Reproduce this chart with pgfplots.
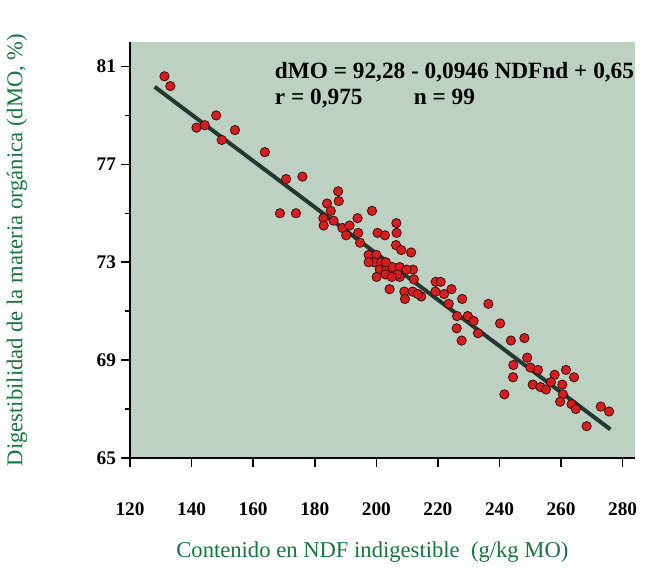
\documentclass[border=0pt]{standalone}
\usepackage{pgfplots}
\pgfplotsset{compat=1.18}
\usepackage{fontspec}
\setmainfont{Liberation Serif}

\definecolor{panel}{RGB}{188,209,193}
\definecolor{dotred}{RGB}{214,30,30}
\definecolor{fitline}{RGB}{34,58,50}
\definecolor{labgreen}{RGB}{22,118,62}

\begin{document}
\begin{tikzpicture}
\begin{axis}[
    scale only axis,
    width=379.5pt, height=312.6pt,
    xmin=120, xmax=284,
    ymin=65, ymax=82,
    axis x line*=bottom,
    axis y line*=left,
    axis line style={line width=1.4pt, black},
    axis background/.style={fill=panel},
    xtick={120,140,...,280},
    ytick={65,69,73,77,81},
    minor ytick={67,71,75,79},
    tick align=outside,
    major tick length=7pt,
    minor tick length=4pt,
    tick style={line width=1.2pt, black},
    /pgf/number format/assume math mode=true,
    ticklabel style={font=\fontsize{14.5}{16}\selectfont\bfseries},
    xticklabel style={anchor=center, yshift=-31.6pt},
    xlabel={Contenido en NDF indigestible\ \ (g/kg MO)},
    ylabel={Digestibilidad de la materia orgánica (dMO, \%)},
    label style={font=\fontsize{17}{19}\selectfont, text=labgreen},
    xlabel style={at={(rel axis cs:0.48,0)}, anchor=center, yshift=-71pt},
    ylabel style={at={(rel axis cs:-0.224,0.5)}, anchor=center},
    clip=false,
]
% regression line dMO = 92.28 - 0.0946 NDFnd
\addplot[fitline, line width=3pt] coordinates {(128,80.17) (276,66.17)};

\addplot[only marks, mark=*, mark size=3.5pt,
    mark options={fill=dotred, draw=black!70!dotred, line width=0.6pt}]
coordinates {
(131.2,80.6) (133.1,80.2) (148.0,79.0) (141.6,78.5) (144.3,78.6)
(154.1,78.4) (149.8,78.0) (163.8,77.5) (170.7,76.4) (176.0,76.5)
(168.7,75.0) (173.9,75.0) (184.0,75.4) (187.6,75.9) (187.8,75.5)
(182.8,74.8) (182.9,74.5) (186.1,74.7) (189.0,74.4) (190.2,74.1)
(193.9,74.8) (198.6,75.1) (194.1,74.2) (194.7,73.8) (200.4,74.2)
(202.8,74.1) (206.5,74.6) (206.6,74.2) (206.4,73.7) (208.1,73.5)
(211.3,73.4) (197.5,73.3) (200.0,73.3) (199.3,73.0) (201.6,73.0)
(201.1,72.7) (203.2,72.7) (200.1,72.4) (203.0,72.5) (205.3,72.8)
(207.6,72.8) (207.6,72.4) (211.9,72.7) (212.2,72.3) (204.3,71.9)
(209.1,71.8) (209.3,71.5) (211.8,71.8) (214.6,71.6) (219.3,72.2)
(220.9,72.2) (219.2,71.8) (222.0,71.7) (224.4,71.9) (223.5,71.3)
(227.9,71.5) (236.4,71.3) (226.2,70.8) (226.1,70.3) (229.7,70.8)
(231.6,70.6) (233.0,70.1) (240.2,70.5) (227.7,69.8) (243.7,69.8)
(248.1,69.9) (249.0,69.1) (244.5,68.8) (244.4,68.3) (241.6,67.6)
(250.0,68.7) (252.5,68.6) (250.8,68.0) (253.3,67.9) (255.1,67.8)
(257.9,68.4) (261.6,68.6) (264.2,68.3) (260.4,68.0) (260.6,67.6)
(259.7,67.3) (263.4,67.2) (264.8,67.0) (272.9,67.1) (275.6,66.9)
(268.3,66.3) (203.1,73.0) (206.8,72.5) (209.8,72.7) (197.5,73.0)
(205.0,72.4) (185.2,75.1) (191.3,74.5) (213.5,71.7) (256.7,68.1)
};

\node[anchor=west, font=\fontsize{17.5}{19}\selectfont\bfseries, inner sep=0pt]
    at (axis cs:167,80.75) {dMO = 92,28 - 0,0946 NDFnd + 0,65};
\node[anchor=west, font=\fontsize{17.5}{19}\selectfont\bfseries, inner sep=0pt]
    at (axis cs:167,79.7) {r = 0,975\hspace{2.2em}n = 99};
\end{axis}
\path (current axis.south west) ++(-97.7pt,-91.7pt)
      (current axis.north east) ++(12.8pt,31.6pt);
\end{tikzpicture}
\end{document}
